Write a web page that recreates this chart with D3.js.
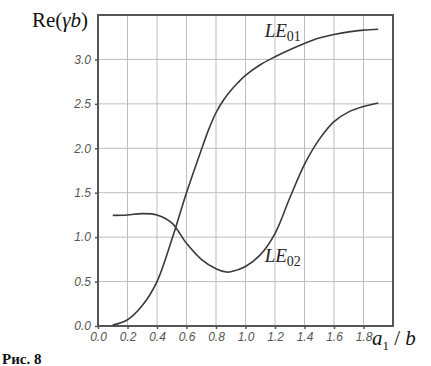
<!DOCTYPE html>
<html>
<head>
<meta charset="utf-8">
<script src="https://cdn.jsdelivr.net/npm/d3@7"></script>
<style>
  html, body { margin: 0; padding: 0; background: #fff; }
  svg { display: block; }
</style>
</head>
<body>
<svg id="chart" width="431" height="366"></svg>
<script>
// ---- data ----
const xTicks = [0.0, 0.2, 0.4, 0.6, 0.8, 1.0, 1.2, 1.4, 1.6, 1.8];
const yTicks = [0.0, 0.5, 1.0, 1.5, 2.0, 2.5, 3.0];
const xTickLabels = ["0.0", "0.2", "0.4", "0.6", "0.8", "1.0", "1.2", "1.4", "1.6", "1.8"];
const yTickLabels = ["0.0", "0.5", "1.0", "1.5", "2.0", "2.5", "3.0"];

const le01X = [0.1, 0.2, 0.3, 0.4, 0.5, 0.6, 0.7, 0.75, 0.8, 0.85, 0.9, 0.95, 1.0, 1.1, 1.2, 1.3, 1.4, 1.5, 1.6, 1.7, 1.8, 1.9];
const le01Y = [0.01, 0.07, 0.23, 0.5, 0.97, 1.5, 1.98, 2.21, 2.4, 2.54, 2.65, 2.74, 2.82, 2.94, 3.03, 3.11, 3.18, 3.24, 3.28, 3.31, 3.33, 3.34];

const le02X = [0.1, 0.2, 0.3, 0.4, 0.5, 0.6, 0.7, 0.8, 0.87, 0.9, 1.0, 1.1, 1.2, 1.3, 1.4, 1.5, 1.6, 1.7, 1.8, 1.9];
const le02Y = [1.245, 1.25, 1.265, 1.25, 1.16, 0.93, 0.75, 0.645, 0.607, 0.61, 0.67, 0.8, 1.04, 1.44, 1.82, 2.1, 2.3, 2.41, 2.47, 2.51];

// ---- layout ----
const svg = d3.select("#chart");
const L = 98, R = 393, T = 15, B = 326;
const x = d3.scaleLinear().domain([0, 2.0]).range([L, R]);
const y = d3.scaleLinear().domain([0, 3.5]).range([B, T]);

// grid
svg.append("g").selectAll("line").data(xTicks.filter(d => d > 0)).join("line")
  .attr("x1", d => x(d)).attr("x2", d => x(d)).attr("y1", T).attr("y2", B)
  .attr("stroke", "#bdbdbd").attr("stroke-width", 1);
svg.append("g").selectAll("line").data(yTicks.filter(d => d > 0)).join("line")
  .attr("x1", L).attr("x2", R).attr("y1", d => y(d)).attr("y2", d => y(d))
  .attr("stroke", "#bdbdbd").attr("stroke-width", 1);

// axes
const xAxis = d3.axisBottom(x).tickValues(xTicks).tickFormat((d, i) => xTickLabels[i])
  .tickSizeInner(3).tickSizeOuter(0).tickPadding(3);
const yAxis = d3.axisLeft(y).tickValues(yTicks).tickFormat((d, i) => yTickLabels[i])
  .tickSizeInner(3).tickSizeOuter(0).tickPadding(4);

const gx = svg.append("g").attr("transform", `translate(0,${B})`).call(xAxis);
const gy = svg.append("g").attr("transform", `translate(${L},0)`).call(yAxis);
[gx, gy].forEach(g => {
  g.select(".domain").remove();
  g.selectAll(".tick line").attr("stroke", "#555").attr("stroke-width", 1.5);
  g.selectAll(".tick text")
    .attr("fill", "#555")
    .style("font-family", "'Liberation Sans', Arial, sans-serif")
    .style("font-style", "italic")
    .style("font-size", "12px");
});

// frame
svg.append("rect").attr("x", L).attr("y", T).attr("width", R - L).attr("height", B - T)
  .attr("fill", "none").attr("stroke", "#555").attr("stroke-width", 2);

// curves
const line = d3.line().x(d => x(d[0])).y(d => y(d[1])).curve(d3.curveCatmullRom.alpha(0.5));
const s1 = le01X.map((v, i) => [v, le01Y[i]]);
const s2 = le02X.map((v, i) => [v, le02Y[i]]);
[s1, s2].forEach(s => {
  svg.append("path").attr("d", line(s)).attr("fill", "none")
    .attr("stroke", "#3a3a3a").attr("stroke-width", 1.6);
});

// curve labels
function curveLabel(px, py, sub) {
  const t = svg.append("text").attr("x", px).attr("y", py)
    .style("font-family", "'Liberation Serif', 'Times New Roman', serif")
    .style("font-size", "19px").attr("fill", "#222");
  t.append("tspan").style("font-style", "italic").text("LE");
  t.append("tspan").attr("dy", 4).style("font-size", "14px").text(sub);
}
curveLabel(x(1.13), y(3.25), "01");
curveLabel(x(1.13), y(0.72), "02");

// axis titles
const yt = svg.append("text").attr("x", 32).attr("y", 27)
  .style("font-family", "'Liberation Serif', 'Times New Roman', serif")
  .style("font-size", "21px").attr("fill", "#111");
yt.append("tspan").text("Re(");
yt.append("tspan").style("font-style", "italic").text("γb");
yt.append("tspan").text(")");

const xt = svg.append("text").attr("x", 372).attr("y", 345)
  .style("font-family", "'Liberation Serif', 'Times New Roman', serif")
  .style("font-size", "21px").attr("fill", "#111");
xt.append("tspan").style("font-style", "italic").text("a");
xt.append("tspan").attr("dy", 5).style("font-size", "13px").text("1");
xt.append("tspan").attr("dy", -5).text(" / ");
xt.append("tspan").style("font-style", "italic").text("b");

// figure caption
svg.append("text").attr("x", 2).attr("y", 364)
  .style("font-family", "'Liberation Serif', 'Times New Roman', serif")
  .style("font-size", "15px").style("font-weight", "bold").attr("fill", "#111")
  .text("Рис. 8");
</script>
</body>
</html>
